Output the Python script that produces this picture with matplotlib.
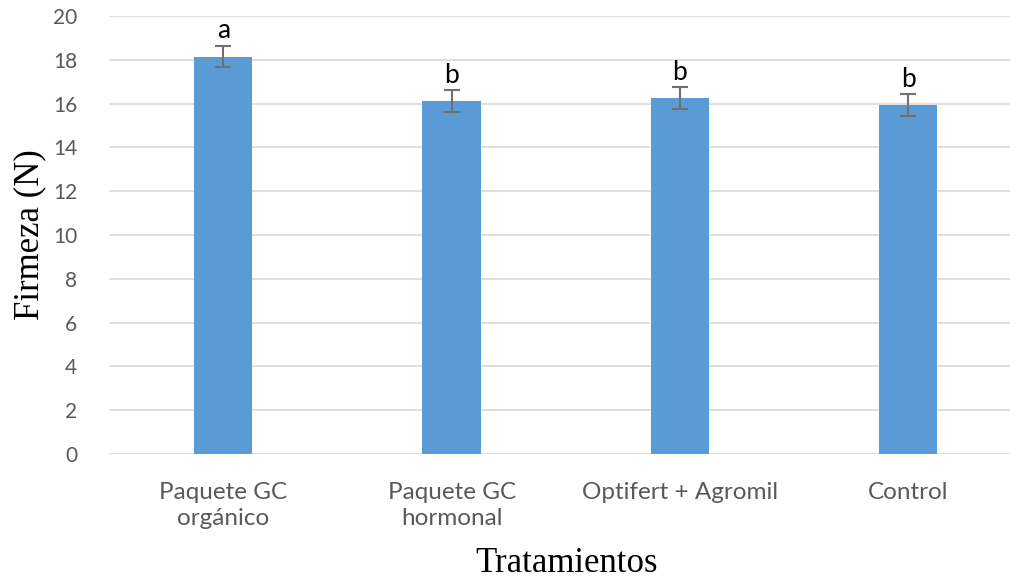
import numpy as np
import matplotlib.pyplot as plt

tratamientos = ['Paquete GC\norgánico', 'Paquete GC\nhormonal', 'Optifert + Agromil', 'Control']
firmeza = [18.15, 16.1, 16.25, 15.95]
error = [0.5, 0.5, 0.5, 0.5]
letras = ['a', 'b', 'b', 'b']


def main():
    fig = plt.figure(figsize=(10.10, 5.83), dpi=100)
    ax = fig.add_axes([109 / 1010, 1 - 454 / 583, 1 - 109 / 1010, (454 - 16) / 583])

    x = np.arange(len(tratamientos))
    ax.bar(x, firmeza, width=0.255, color='#5B9BD5', zorder=2)
    ax.errorbar(x, firmeza, yerr=error, fmt='none', ecolor='#707070',
                elinewidth=1.5, capsize=6, capthick=1.5, zorder=3)

    for xi, v, e, l in zip(x, firmeza, error, letras):
        ax.text(xi, v + e + 0.1, l, ha='center', va='bottom',
                fontsize=19, family='Lato', color='black')

    ax.set_xlim(-0.5, 3.445)
    ax.set_ylim(0, 20)
    ax.set_yticks(range(0, 21, 2))
    ax.set_xticks(x)
    ax.set_xticklabels(tratamientos, fontsize=17.5, family='Lato', color='#595959',
                       linespacing=1.32)
    for t in ax.get_yticklabels():
        t.set_fontsize(15)
        t.set_family('Lato')
        t.set_color('#595959')
    ax.tick_params(length=0)
    ax.tick_params(axis='y', pad=23)
    ax.tick_params(axis='x', pad=20)

    ax.grid(axis='y', color='#d9d9d9', linewidth=1.2, zorder=0)
    for s in ax.spines.values():
        s.set_visible(False)

    fig.text(30 / 1010, 1 - 235 / 583, 'Firmeza (N)', rotation=90, ha='center', va='center',
             fontsize=25, family='Liberation Serif')
    fig.text(567 / 1010, 1 - 563 / 583, 'Tratamientos', ha='center', va='center',
             fontsize=25, family='Liberation Serif')

    fig.savefig('out.png', dpi=100)


if __name__ == '__main__':
    main()
